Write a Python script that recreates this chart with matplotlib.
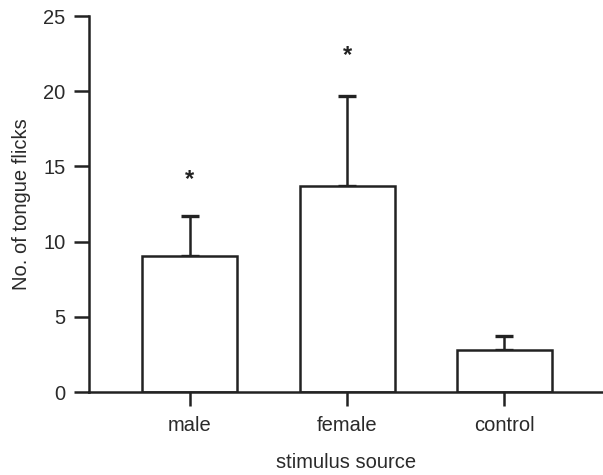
import matplotlib.pyplot as plt
import numpy as np

plt.rcParams['font.family'] = ['Liberation Sans', 'DejaVu Sans']

categories = ['male', 'female', 'control']
means = [9.05, 13.72, 2.79]
errors = [2.65, 5.96, 0.95]
star_y = [14.1, 22.4]   # significance markers over male and female

ink = '#222222'
txt = '#2a2a2a'

fig = plt.figure(figsize=(6.03, 4.75), dpi=100)
ax = fig.add_axes([0.1476, 0.1747, 0.8524, 0.7916])

x = np.arange(len(categories))
ax.bar(x, means, width=0.605, color='white', edgecolor=ink, linewidth=1.8, zorder=2)
ax.errorbar(x, means, yerr=[np.zeros(len(errors)), errors], fmt='none',
            ecolor=ink, elinewidth=1.8, capsize=6.8, capthick=2.4, zorder=1)

for i, sy in enumerate(star_y):
    ax.text(x[i], sy, '*', ha='center', va='center', fontsize=17,
            fontweight='bold', color=ink)

ax.set_xlim(-0.643, 2.63)
ax.set_ylim(0, 25)
ax.set_yticks([0, 5, 10, 15, 20, 25])
ax.set_xticks(x)
ax.set_xticklabels(categories)

for s in ['top', 'right']:
    ax.spines[s].set_visible(False)
for s in ['left', 'bottom']:
    ax.spines[s].set_linewidth(1.8)
    ax.spines[s].set_color(ink)

ax.tick_params(axis='y', length=11, width=1.8, color=ink,
               labelsize=14.5, labelcolor=txt, pad=6)
ax.tick_params(axis='x', length=10, width=1.8, color=ink,
               labelsize=14.5, labelcolor=txt, pad=7)
ax.set_xlabel('stimulus source', fontsize=14.5, color=txt, labelpad=13)
ax.set_ylabel('No. of tongue flicks', fontsize=14.5, color=txt, labelpad=9)

plt.savefig('out.png', dpi=100)
